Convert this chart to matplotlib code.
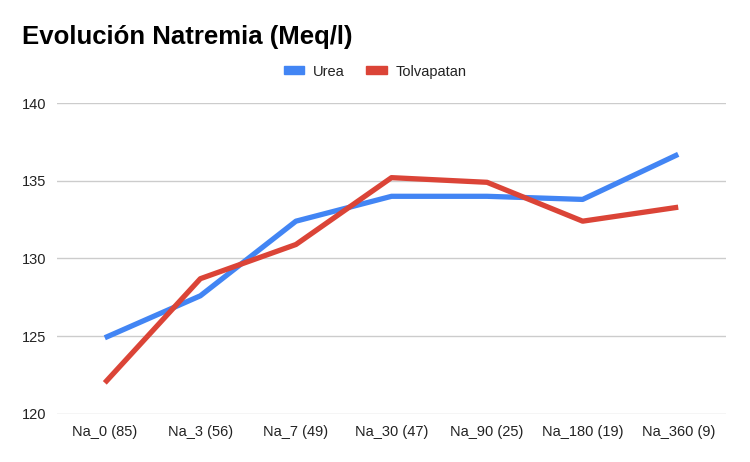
import matplotlib.pyplot as plt
from matplotlib.patches import Patch

categories = ["Na_0 (85)", "Na_3 (56)", "Na_7 (49)", "Na_30 (47)",
              "Na_90 (25)", "Na_180 (19)", "Na_360 (9)"]
urea = [124.9, 127.6, 132.4, 134.0, 134.0, 133.8, 136.7]
tolvapatan = [122.0, 128.7, 130.9, 135.2, 134.9, 132.4, 133.3]
yticks = [120, 125, 130, 135, 140]

BLUE = "#4285F4"
RED = "#DB4437"

plt.rcParams["font.family"] = ["Liberation Sans", "DejaVu Sans"]

fig = plt.figure(figsize=(7.5, 4.62), dpi=100)
ax = fig.add_axes([0.076, 0.104, 0.892, 0.673])

x = range(len(categories))
ax.plot(x, urea, color=BLUE, lw=3.8, label="Urea", solid_capstyle="butt")
ax.plot(x, tolvapatan, color=RED, lw=3.8, label="Tolvapatan", solid_capstyle="butt")

ax.set_xlim(-0.5, len(categories) - 0.5)
ax.set_ylim(120, 140)
ax.set_yticks(yticks)
ax.set_xticks(list(x))
ax.set_xticklabels(categories)
ax.tick_params(length=0, labelsize=10.5, colors="#222222", pad=8)
ax.tick_params(axis="y", pad=8)
ax.grid(axis="y", color="#cccccc", lw=1)
ax.set_axisbelow(True)
for s in ax.spines.values():
    s.set_visible(False)

fig.text(0.029, 0.92, "Evolución Natremia (Meq/l)", fontsize=18.5, fontweight="bold",
         va="center", ha="left", color="#000000")

handles = [Patch(color=BLUE, label="Urea"), Patch(color=RED, label="Tolvapatan")]
fig.legend(handles=handles, loc="center", bbox_to_anchor=(0.5, 0.845), ncol=2,
           frameon=False, fontsize=10.5, handlelength=1.4, handleheight=0.45,
           columnspacing=1.5, handletextpad=0.6, labelcolor="#222222")

fig.savefig("out.png", dpi=100)
